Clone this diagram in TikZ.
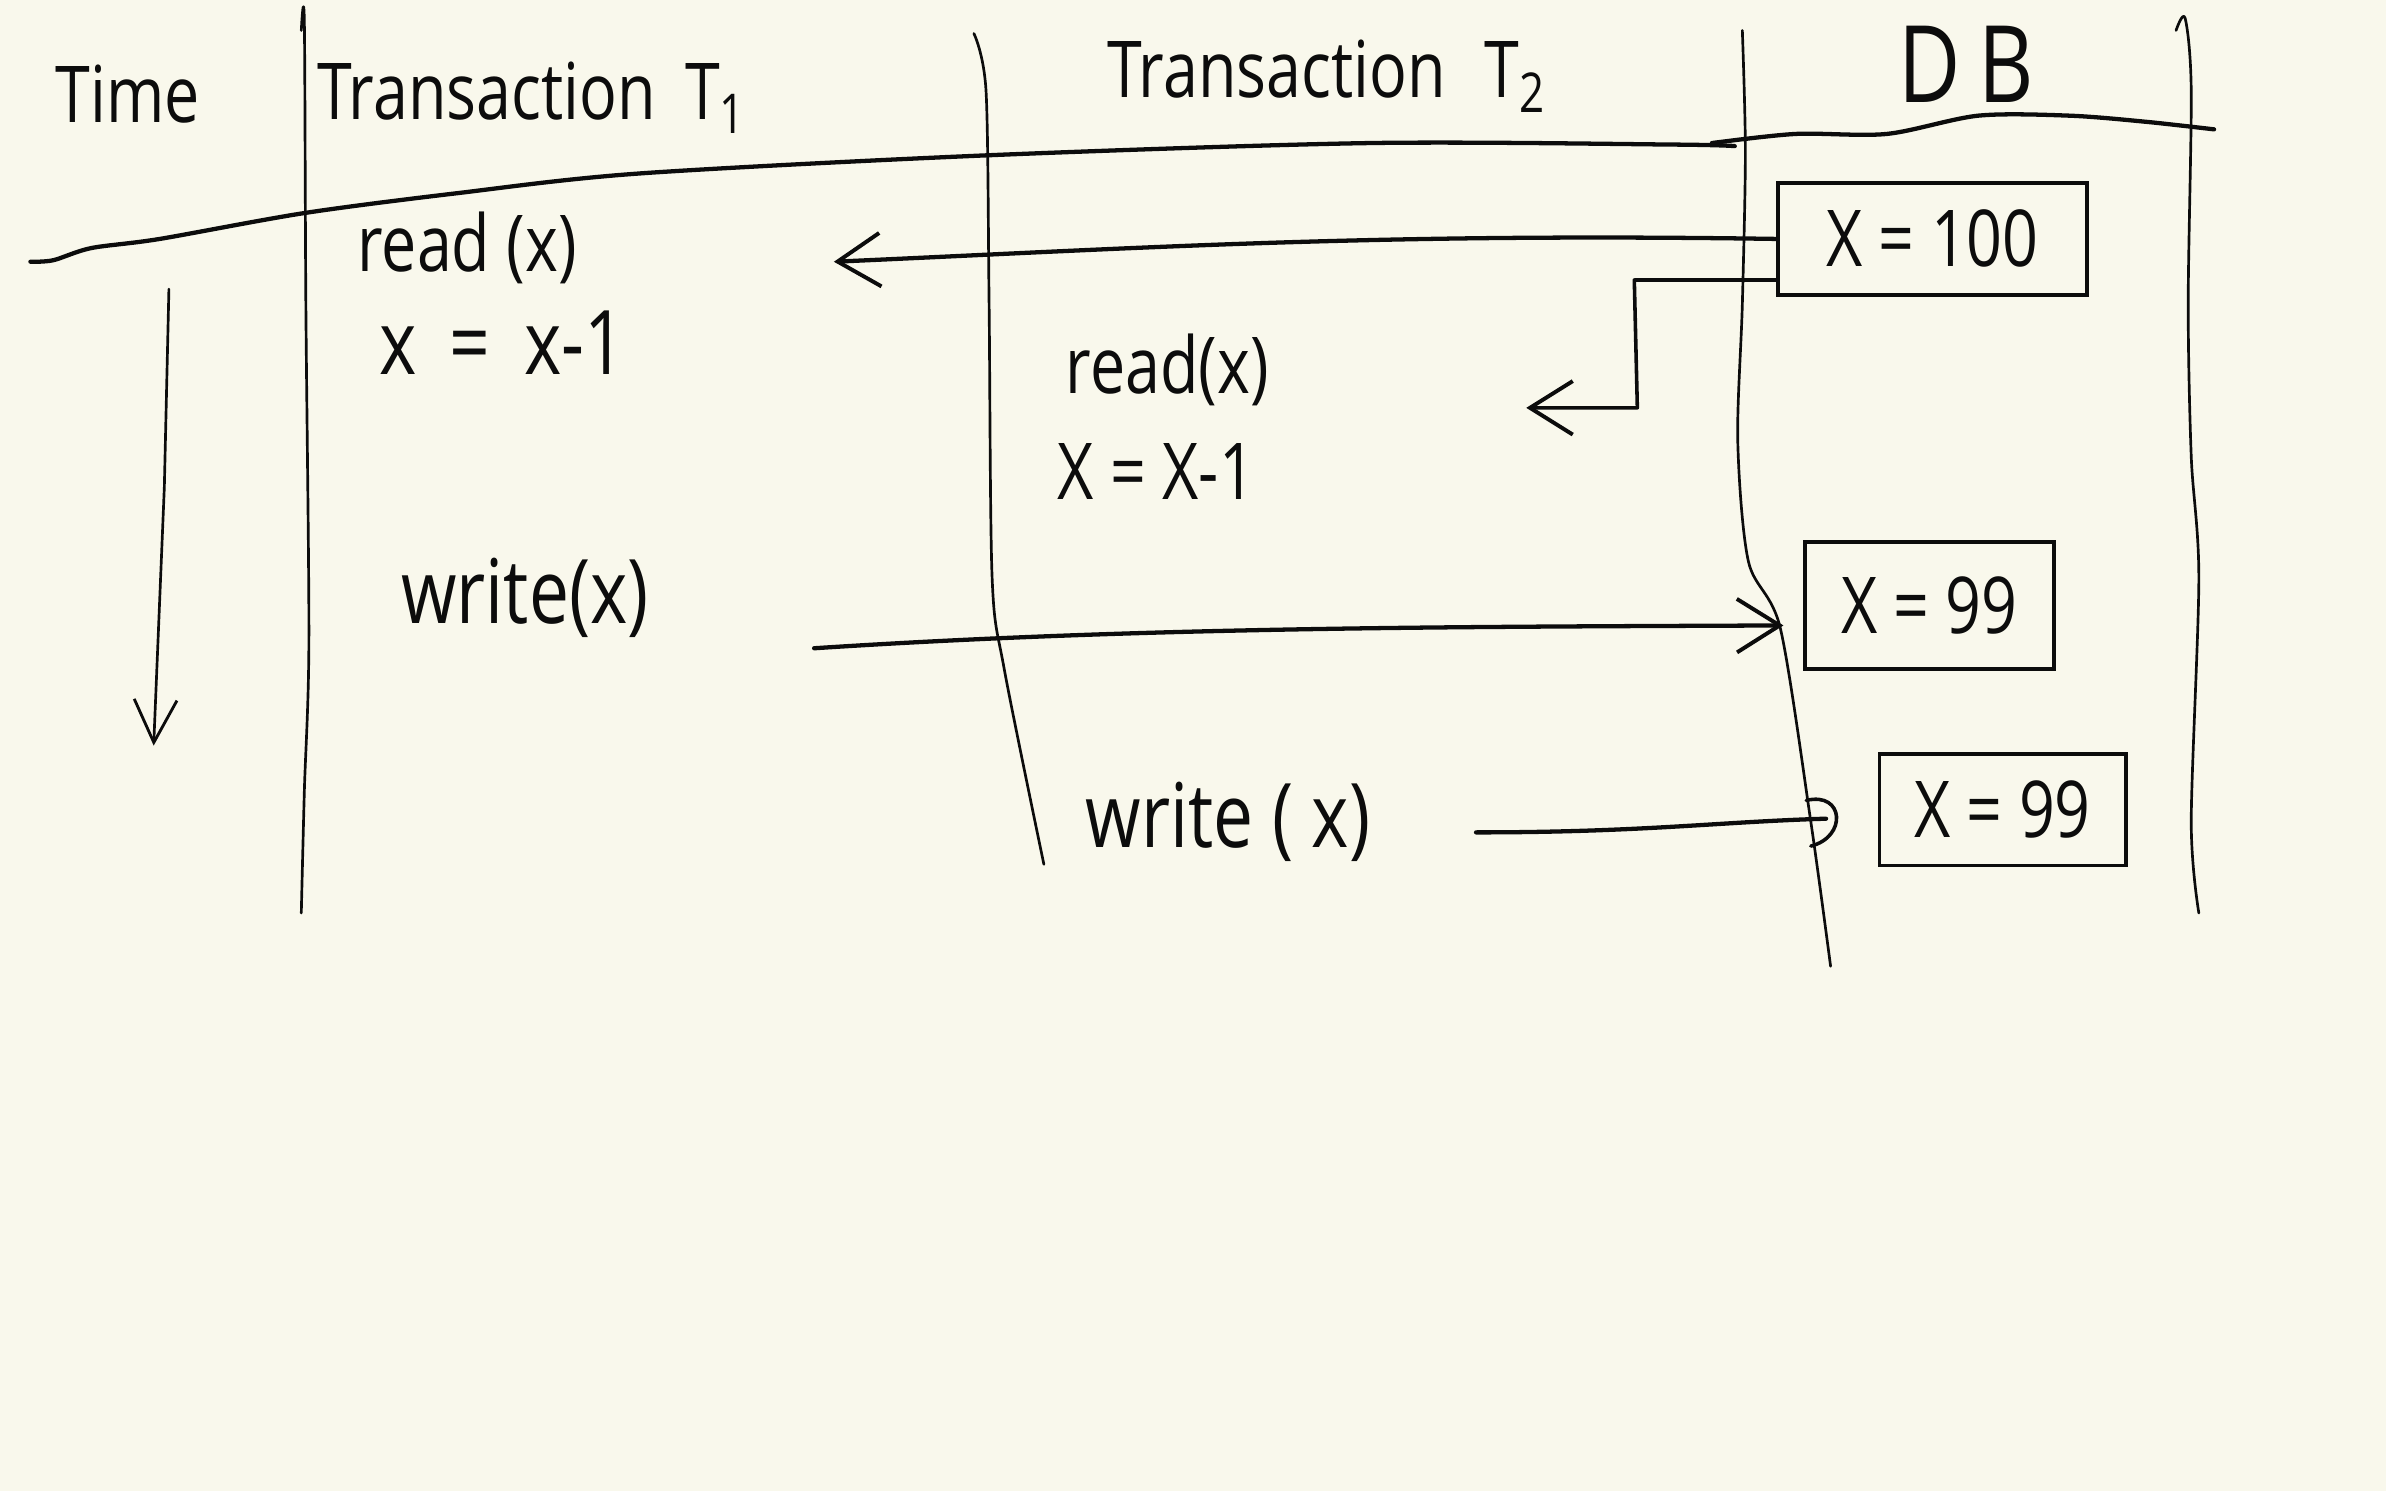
\documentclass[tikz,border=0pt]{standalone}
\usepackage{fontspec}
\setsansfont[FakeStretch=0.8]{Open Sans}
\usetikzlibrary{arrows.meta}
\definecolor{paper}{RGB}{249,248,236}
\definecolor{ink}{RGB}{12,12,12}
\begin{document}
\begin{tikzpicture}[x=0.015cm,y=-0.015cm,
  hand/.style={font=\sffamily\fontsize{22}{26}\selectfont, text=ink, inner sep=0pt},
  big/.style={font=\sffamily\fontsize{25}{29}\selectfont},
  rule/.style={draw=ink, line width=0.75pt, line cap=round, line join=round},
  stroke/.style={draw=ink, line width=1.2pt, line cap=round, line join=round},
  barb/.style={-{Straight Barb[length=12pt,width=15pt,line width=1.1pt]}},
  valbox/.style={hand, draw=ink, line width=1pt}]
\useasboundingbox (0,0) rectangle (1568,980);
\fill[paper] (0,0) rectangle (1568,980);

% headings
\node[hand] (time) at (84,62) {Time};
\node[hand, anchor=west] (t1) at (208,64) {Transaction\, T\textsubscript{1}};
\node[hand] (t2) at (872,50) {Transaction\enspace T\textsubscript{2}};
\node[hand, font=\sffamily\fontsize{30}{34}\selectfont] (db) at (1292,42) {D\,B};

% lifelines
\draw[rule] plot[smooth] coordinates {(198,20) (200,14) (201,200) (203,420) (200,520) (198,600)};
\draw[rule] plot[smooth] coordinates {(640,22) (648,60) (650,200) (652,380) (660,440) (686,568)};
\draw[rule] plot[smooth] coordinates {(1145,20) (1147,100) (1145,200) (1142,290) (1149,369) (1170,413) (1190,540) (1203,635)};
\draw[rule] plot[smooth] coordinates {(1430,20) (1436,12) (1440,60) (1438,200) (1440,300) (1445,380) (1440,540) (1445,600)};

% header separator
\draw[stroke] plot[smooth] coordinates {(20,172) (35,171) (60,163) (105,157) (200,140) (300,127) (420,114) (650,102) (900,94) (1100,95) (1140,96)};
\draw[stroke] plot[smooth] coordinates {(1125,94) (1180,88) (1240,88) (1300,76) (1360,76) (1410,80) (1455,85)};

% time arrow
\coordinate (tstart) at (111,190);
\coordinate (tend) at (101,490);
\draw[rule, -{Straight Barb[length=12pt,width=12pt,line width=0.8pt]}] (tstart) -- (108,320) -- (tend);

% transaction steps
\node[hand] (r1) at (307,163) {read (x)};
\node[hand, big] (c1) at (330,225) {x\, =\, x-1};
\node[hand, big] (w1) at (345,393) {write(x)};
\node[hand] (r2) at (767,243) {read(x)};
\node[hand] (c2) at (760,310) {X = X-1};
\node[hand, big] (w2) at (807,540) {write ( x)};

% database values
\node[valbox, minimum width=3.05cm, minimum height=1.1cm] (b100) at (1270,157) {X = 100};
\node[valbox, minimum width=2.45cm, minimum height=1.25cm] (b99a) at (1268,398) {X = 99};
\node[valbox, minimum width=2.43cm, minimum height=1.1cm] (b99b) at (1316,532) {X = 99};

% arrows
\coordinate (r1tip) at (548,172);
\draw[stroke, barb] (b100.west) .. controls (900,153) and (750,163) .. (r1tip);

\coordinate (r2tip) at (1003,268);
\coordinate (r2bend) at (1074,184);
\draw[stroke, line width=1pt, barb] (b100.west |- r2bend) -- (r2bend) -- (1076,268) -- (r2tip);

\coordinate (w1tail) at (535,426);
\coordinate (w1tip) at (1172,411);
\draw[stroke, barb] (w1tail) .. controls (750,412) and (950,412) .. (w1tip);

\coordinate (w2tail) at (970,547);
\coordinate (w2tip) at (1200,538);
\draw[stroke] (w2tail) .. controls (1080,547) and (1130,540) .. (w2tip);
\draw[rule, line width=1pt] (1187,526) .. controls (1212,520) and (1214,550) .. (1190,556);
\end{tikzpicture}
\end{document}
